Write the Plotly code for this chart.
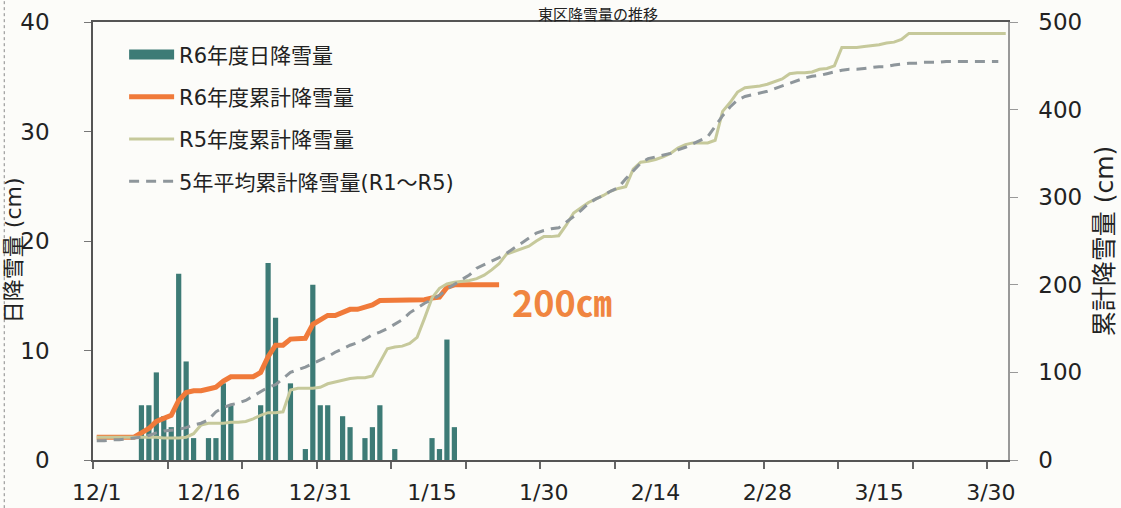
import plotly.graph_objects as go

# ---- data (day index 0 = 12/1) ----
tick_labels = ["12/1", "12/16", "12/31", "1/15", "1/30", "2/14", "2/28", "3/15", "3/30"]
tick_days = [0, 15, 30, 45, 60, 75, 90, 105, 120]

r6_daily = [0, 0, 0, 0, 0, 0, 5, 5, 8, 4, 3, 17, 9, 2, 0, 2, 2, 7, 5, 0,
            0, 0, 5, 18, 13, 0, 7, 0, 1, 16, 5, 5, 0, 4, 3, 0, 2, 3, 5, 0,
            1, 0, 0, 0, 0, 2, 1, 11, 3]

r6_cum = [26, 26, 26, 26, 26, 26, 31, 36, 44, 48, 51, 68, 77, 79, 79, 81, 83, 90, 95, 95,
          95, 95, 100, 118, 131, 131, 138, 138, 139, 155, 160, 165, 165, 169, 172, 172, 174, 177, 182, 182,
          183, 183, 183, 183, 183, 185, 186, 197, 200, 200, 200, 200, 200, 200, 200]

r5_cum = [26, 26, 26, 26, 26, 26, 26, 26, 26, 25, 25, 25, 26,
          30, 40, 42, 42, 42, 43, 43, 44,
          47, 51, 54, 54, 55,
          80, 82, 82, 82, 83, 87, 89,
          91, 93, 94, 94, 96,
          112, 127, 129, 130, 133, 140,
          162, 185, 196, 201, 203, 204, 205, 207, 211,
          217, 224, 235, 238, 241, 244, 250, 255, 255, 256,
          268, 282, 288, 294, 298, 302, 307, 310, 312,
          332, 340, 341, 343, 346, 350, 356, 360, 362, 362, 362, 365,
          398, 408, 420, 425, 426, 427, 429, 432, 435,
          441, 442, 442, 443, 446, 447, 450,
          471, 471, 471, 472, 473, 474, 476, 477, 480,
          487, 487, 487, 487, 487, 487, 487, 487, 487, 487, 487, 487, 487, 487]

avg5_cum = [22, 22, 23, 23, 24, 25, 26, 28, 31, 33,
            34, 35, 37, 40, 42, 46, 55, 60, 63, 65,
            68, 73, 79, 83, 86, 93, 100, 103, 106, 110,
            114, 118, 123, 127, 131, 134, 138, 143, 146, 150,
            155, 160, 168, 174, 179, 183, 188, 195, 201, 206,
            211, 219, 223, 227, 231, 236, 242, 248, 254, 259,
            262, 264, 265, 271, 278, 285, 293, 298, 302, 307,
            311, 321, 330, 339, 344, 346, 348, 350, 354, 357,
            361, 365, 369, 381, 393, 403, 411, 415, 417, 419,
            421, 424, 427, 430, 433, 436, 438, 439, 441, 443,
            445, 446, 446, 447, 448, 449, 449, 451, 452, 453,
            453, 454, 454, 454, 455, 455, 455, 455, 455, 455,
            455, 455]

# ---- styles ----
TEAL = "#3d7b76"
ORANGE = "#f07a3a"
OLIVE = "#c6c99b"
GRAY = "#8e969b"
FONT = "DejaVu Sans, Noto Sans CJK JP"
BG = "#fcfcf9"


def centers(n):
    return [i + 0.5 for i in range(n)]


fig = go.Figure()

fig.add_trace(go.Bar(x=centers(len(r6_daily)), y=r6_daily, width=0.7,
                     marker=dict(color=TEAL, line=dict(width=0)),
                     name="R6年度日降雪量", showlegend=False, yaxis="y"))
# legend entry for the bars (wide rectangle like the original)
fig.add_trace(go.Scatter(x=[None], y=[None], mode="lines", line=dict(color=TEAL, width=12),
                         name="R6年度日降雪量", legendgroup="g1", yaxis="y"))
fig.add_trace(go.Scatter(x=centers(len(r6_cum)), y=r6_cum, mode="lines",
                         line=dict(color=ORANGE, width=5), name="R6年度累計降雪量",
                         legendgroup="g2", yaxis="y2"))
fig.add_trace(go.Scatter(x=centers(len(r5_cum)), y=r5_cum, mode="lines",
                         line=dict(color=OLIVE, width=3), name="R5年度累計降雪量",
                         legendgroup="g3", yaxis="y2"))
fig.add_trace(go.Scatter(x=centers(len(avg5_cum)), y=avg5_cum, mode="lines",
                         line=dict(color=GRAY, width=3, dash="10px,7px"),
                         name="5年平均累計降雪量(R1～R5)", legendgroup="g4", yaxis="y2"))

fig.update_layout(
    width=1121, height=508,
    margin=dict(l=93, r=113, t=22, b=48, autoexpand=False),
    paper_bgcolor=BG, plot_bgcolor=BG,
    font=dict(family=FONT, color="#222"),
    barmode="overlay",
    xaxis=dict(range=[0, 122.8], tickmode="array", automargin=False,
               tickvals=[d + 0.5 for d in tick_days], ticktext=tick_labels,
               ticks="", showgrid=False, zeroline=False,
               showline=True, linecolor="#555", linewidth=1.5, mirror=True,
               tickfont=dict(size=22, family=FONT, color="#222"),
               ticklabelstandoff=12,
               minor=dict(tickmode="linear", tick0=0, dtick=10, ticks="outside",
                          ticklen=7, tickcolor="#666", tickwidth=1.5, showgrid=False)),
    yaxis=dict(range=[0, 40], dtick=10, ticks="outside", ticklen=7, tickcolor="#777",
               automargin=False,
               showgrid=False, zeroline=False, showline=True, linecolor="#555", linewidth=1.5,
               tickfont=dict(size=23, family=FONT, color="#222"), ticklabelstandoff=30),
    yaxis2=dict(range=[0, 500], dtick=100, overlaying="y", side="right",
                ticks="outside", ticklen=8, tickcolor="#999", automargin=False,
                showgrid=False, zeroline=False, showline=True, linecolor="#999", linewidth=1.5,
                tickfont=dict(size=23, family=FONT, color="#222"), ticklabelstandoff=16,
                title=dict(text="累計降雪量 (cm)", font=dict(size=25, family=FONT, color="#222"),
                           standoff=14)),
    legend=dict(x=0.034, xanchor="left", y=0.972, yanchor="top",
                bgcolor="rgba(0,0,0,0)", font=dict(size=21, family=FONT, color="#222"),
                itemwidth=45, traceorder="grouped", tracegroupgap=12),
    showlegend=True,
)

# left axis title
fig.add_annotation(text="日降雪量 (cm)", xref="paper", yref="paper", x=-0.0875, y=0.479,
                   xanchor="center", yanchor="middle", textangle=-90, showarrow=False,
                   font=dict(size=22, family=FONT, color="#222"))
fig.add_annotation(text="東区降雪量の推移", xref="paper", yref="paper", x=0.552, y=1.046,
                   xanchor="center", yanchor="top", showarrow=False, borderpad=0,
                   font=dict(size=15, family="Noto Sans CJK JP", color="#222"))
fig.add_annotation(text="<b>200㎝</b>", xref="x", yref="y2", x=56.0, y=182,
                   xanchor="left", yanchor="middle", showarrow=False,
                   font=dict(size=36, family="Noto Sans CJK JP", color="#f08540"))
# dotted scan border on the left
fig.add_shape(type="line", xref="paper", yref="paper", x0=-0.097, x1=-0.097, y0=-0.11, y1=1.06,
              line=dict(color="#888", width=1, dash="dot"))

fig.write_html("out.html", post_script="document.body.style.margin='0';",
               config={"displayModeBar": False})
